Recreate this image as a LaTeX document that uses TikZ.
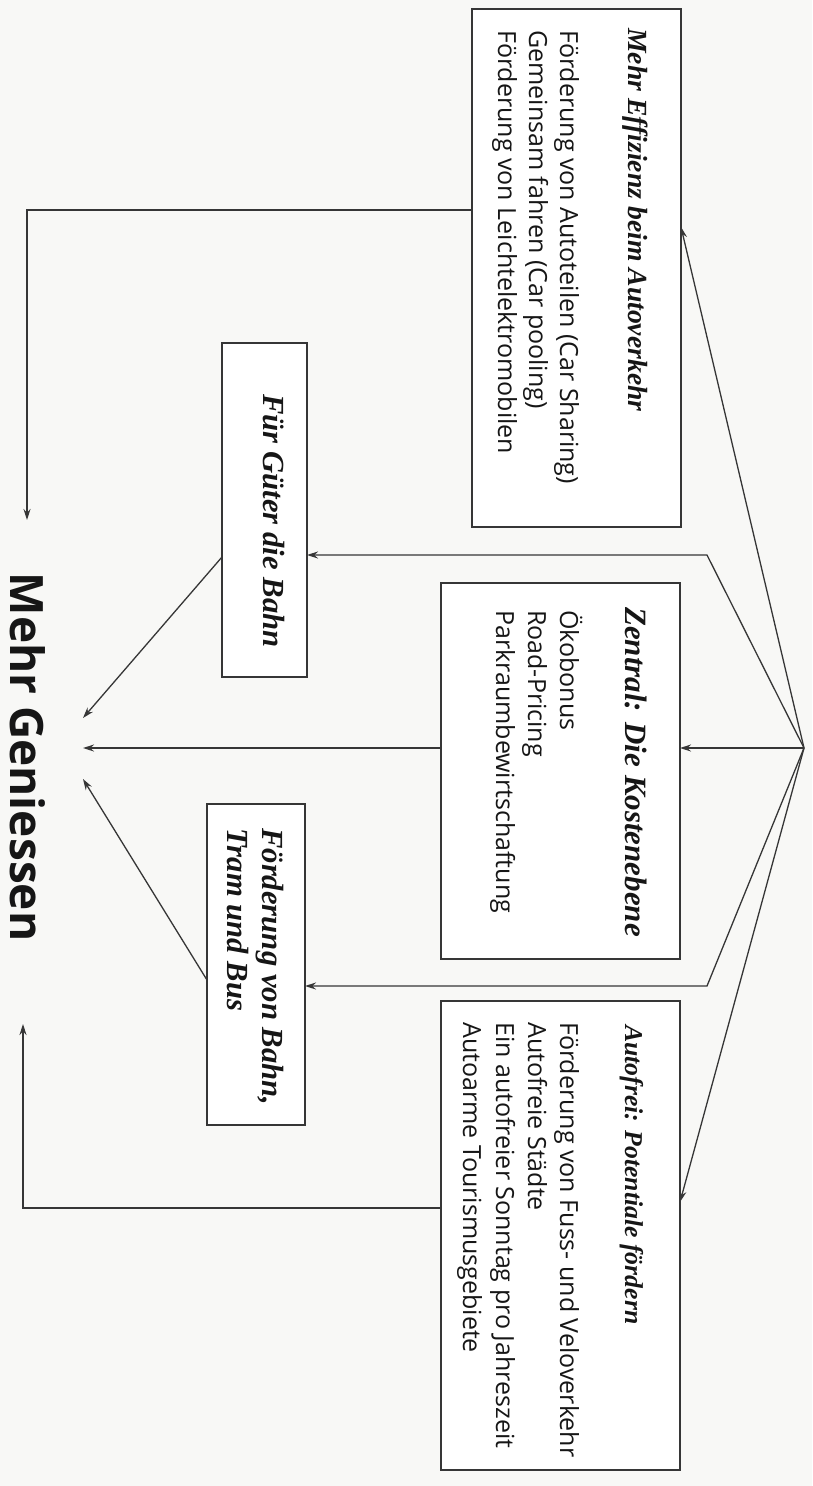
\documentclass[tikz,border=0pt]{standalone}
\usepackage{fontspec}
\setmainfont{Liberation Serif}
\newfontfamily\bodyf{Open Sans}
\newfontfamily\bigf{Open Sans}
\usetikzlibrary{arrows.meta,calc}
\definecolor{linec}{HTML}{363636}
\definecolor{textc}{HTML}{161616}
\definecolor{bgc}{HTML}{F8F8F6}
\begin{document}
\begin{tikzpicture}[x=1pt,y=-1pt,
  box/.style={draw=linec, line width=1.3pt, inner sep=0pt, outer sep=0pt, fill=white},
  conn/.style={draw=linec, line width=1.3pt},
  arr/.style={conn, -{Stealth[length=11pt,width=7pt]}},
  ttl/.style={rotate=-90, anchor=base west, inner sep=0pt, text=textc,
    font=\bfseries\itshape\fontsize{#1}{#1}\selectfont},
  body/.style={rotate=-90, anchor=base west, inner sep=0pt, text=textc,
    font=\bodyf\fontsize{25}{30}\selectfont}
]
\fill[bgc] (0,0) rectangle (812,1486);
\useasboundingbox (0,0) rectangle (812,1486);

% boxes
\node[box, minimum width=209pt, minimum height=518pt] (b1) at (576.5,268) {};
\node[box, minimum width=239pt, minimum height=376pt] (bZ) at (560.5,771) {};
\node[box, minimum width=239pt, minimum height=469pt] (bA) at (560.5,1235.5) {};
\node[box, minimum width=85pt, minimum height=334pt] (bG) at (264.5,510) {};
\node[box, minimum width=98pt, minimum height=321pt] (bF) at (256,964.5) {};

% texts box 1
\node[ttl=27.7] (t1) at (628,28) {Mehr Effizienz beim Autoverkehr};
\node[body] (l11) at (560,30) {Förderung von Autoteilen (Car Sharing)};
\node[body] (l12) at (529,30) {Gemeinsam fahren (Car pooling)};
\node[body] (l13) at (498,30) {Förderung von Leichtelektromobilen};

% Zentral
\node[ttl=31] (t2) at (625,607) {Zentral: Die Kostenebene};
\node[body] (l21) at (560,610) {Ökobonus};
\node[body] (l22) at (528,610) {Road-Pricing};
\node[body] (l23) at (496,610) {Parkraumbewirtschaftung};

% Autofrei
\node[ttl=25.7] (t3) at (625,1025) {Autofrei: Potentiale fördern};
\node[body] (l31) at (560,1022) {Förderung von Fuss- und Veloverkehr};
\node[body] (l32) at (528,1022) {Autofreie Städte};
\node[body] (l33) at (496,1022) {Ein autofreier Sonntag pro Jahreszeit};
\node[body] (l34) at (463,1022) {Autoarme Tourismusgebiete};

% small boxes
\node[ttl=30.7, anchor=base] (t4) at (263,521) {Für Güter die Bahn};
\node[ttl=30.7] (t5) at (262,828) {Förderung von Bahn,};
\node[ttl=30.7] (t6) at (227,828) {Tram und Bus};

% goal
\node[rotate=-90, anchor=base, inner sep=0pt, text=textc,
  font=\bigf\bfseries\fontsize{46}{46}\selectfont] (goal) at (10,757) {Mehr Geniessen};

% connectors from hub
\coordinate (hub) at (804,748);
\coordinate (bendU) at (707,555);
\coordinate (bendL) at (707,986);
\draw[arr] (hub) -- (b1.east |- 0,227);
\draw[arr] (hub) -- (bendU) -- (bG.east |- bendU);
\draw[arr] (hub) -- (bZ.east |- hub);
\draw[arr] (hub) -- (bendL) -- (bF.east |- bendL);
\draw[arr] (hub) -- (bA.east |- 0,1202);

% connectors to goal
\coordinate (cU) at (27,210);
\coordinate (eU) at (27,520);
\coordinate (cL) at (23,1208);
\coordinate (eL) at (23,1024);
\coordinate (gA) at (83,718);
\coordinate (gB) at (83,748);
\coordinate (gC) at (83,779);
\draw[arr] (b1.west |- cU) -- (cU) -- (eU);
\draw[arr] (bG.west |- 0,557) -- (gA);
\draw[arr] (bZ.west |- gB) -- (gB);
\draw[arr] (bF.west |- 0,980) -- (gC);
\draw[arr] (bA.west |- cL) -- (cL) -- (eL);
\end{tikzpicture}
\end{document}
